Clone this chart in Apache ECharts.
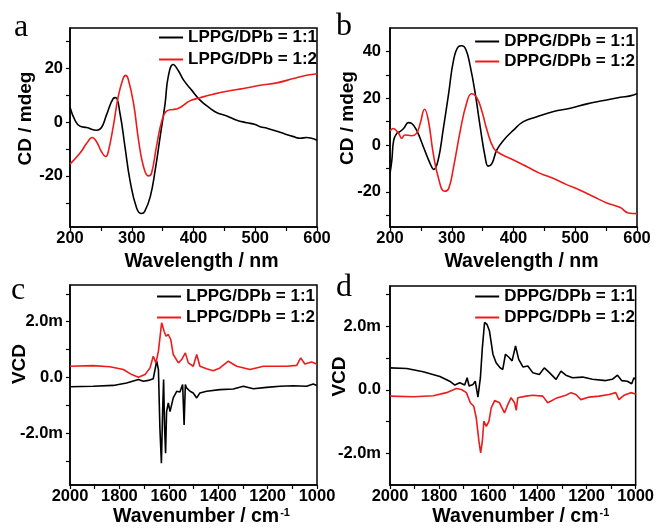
<!DOCTYPE html>
<html>
<head>
<meta charset="utf-8">
<script src="https://cdn.jsdelivr.net/npm/echarts@6/dist/echarts.min.js"></script>
<style>html,body{margin:0;padding:0;background:#fff}#c{width:657px;height:528px}</style>
</head>
<body>
<div id="c"></div>
<script>
// ---- Panel a: CD, LPPG/DPb ----
const aX1 = [200,208,216,227,243,251,259,270,274,281,289,297,308,316,321,330,338,346,354,359,367,375,384,397,411,427,438,454,470,486,500,508,519,540,562,573,583,591,600];
const aY1 = [5.5,0.7,-1.5,-2,-3,-2,2.6,8.8,9.1,3.2,-9.1,-21.5,-32,-34,-33.2,-27.7,-17.8,-5.4,6.9,16.8,21.4,19.3,15.6,11.9,8.1,5.1,3.5,2.3,0.7,-0.2,-0.9,-1.7,-2.3,-3.8,-5.4,-6,-5.7,-6,-6.7];
const aX2 = [200,216,227,236,243,251,258,262,270,278,286,290,294,303,311,319,327,332,340,349,357,367,375,384,394,411,432,454,481,508,535,562,583,600];
const aY2 = [-15.6,-11.6,-7.9,-5.7,-7.3,-11,-12.8,-11,-1.7,9.4,16.2,17.4,16.2,6.9,-6.7,-16.5,-20,-19,-9.1,0.7,4.2,4.7,5.1,6.3,7.9,9.1,10.4,11.5,12.5,13.7,14.6,16.2,17.4,18];
// ---- Panel b: CD, DPPG/DPb ----
const bX1 = [200,203,206,211,216,222,230,235,243,254,265,271,278,286,295,303,311,316,323,330,338,346,354,359,365,373,384,400,416,438,465,492,519,546,573,589,600];
const bY1 = [-12.1,-6.4,2.1,5,5.7,7.1,9.6,9.3,6.4,-0.7,-7.9,-10.4,-6.4,6.4,22.1,36.4,42.1,42.4,40.7,33.6,22.1,7.9,-5,-9,-7.9,-2.1,2.1,6.4,10,12.1,14.3,15.7,17.6,19,20.4,21,21.9];
const bX2 = [200,205,214,219,224,235,243,249,256,262,270,278,288,295,303,314,324,332,341,349,357,368,378,400,422,443,465,486,508,530,551,573,586,600];
const bY2 = [6,7.1,5,2.9,4.3,4,5,9.3,15.3,10.7,-3.6,-13.6,-19.7,-18.6,-9.3,6.4,17.9,21.9,20,14.3,6.4,-1.4,-3.6,-6.4,-9.3,-12.1,-14.3,-16.9,-19.3,-22.1,-24.7,-26.7,-29,-29.3];
// ---- Panel c: VCD (m), LPPG/DPb ----
const cX1 = [2000,1906,1825,1771,1723,1703,1683,1663,1649,1642,1636,1630,1625,1621,1617,1613,1609,1602,1595,1582,1568,1555,1544,1538,1533,1528,1514,1501,1487,1474,1447,1393,1339,1298,1258,1204,1150,1096,1042,1015,1001];
const cY1 = [-0.34,-0.32,-0.29,-0.2,-0.08,-0.14,-0.11,-0.05,0.58,0.28,-1.83,-3.09,-1.23,-0.08,-1.83,-2.73,-1.23,-0.92,-1.23,-0.74,-0.5,-0.53,-0.26,-1.71,-0.26,-0.38,-0.5,-0.56,-0.74,-0.56,-0.5,-0.44,-0.42,-0.32,-0.41,-0.36,-0.32,-0.3,-0.32,-0.24,-0.29];
const cX2 = [2000,1906,1838,1784,1750,1723,1696,1676,1663,1652,1642,1629,1619,1611,1602,1592,1582,1561,1548,1533,1521,1501,1487,1474,1447,1420,1393,1359,1325,1271,1217,1190,1123,1082,1066,1049,1022,1001];
const cY2 = [0.4,0.42,0.38,0.28,0.1,0,0.1,0.34,0.76,0.52,0.94,1.96,1.66,1.48,1.54,1.36,0.82,0.52,0.64,0.88,0.52,0.4,0.82,0.4,0.31,0.24,0.34,0.58,0.4,0.28,0.4,0.4,0.4,0.43,0.7,0.48,0.55,0.48];
// ---- Panel d: VCD (m), DPPG/DPb ----
const dX1 = [2000,1932,1865,1797,1757,1736,1716,1696,1686,1678,1662,1653,1642,1632,1624,1615,1605,1595,1581,1568,1551,1541,1530,1514,1503,1489,1476,1459,1439,1419,1392,1372,1351,1324,1304,1284,1257,1216,1176,1122,1095,1074,1057,1034,1016,1007,1000];
const dY1 = [0.69,0.67,0.57,0.42,0.27,0.15,0.22,0.15,0.38,0.12,0.17,0.27,-0.23,0.38,1.33,2.12,2.06,1.85,1.12,0.85,0.69,0.64,1.12,1.01,0.91,1.38,0.96,0.72,0.75,0.54,0.48,0.69,0.54,0.33,0.59,0.46,0.38,0.4,0.33,0.29,0.33,0.46,0.29,0.27,0.19,0.38,0.33];
const dX2 = [2000,1905,1824,1770,1730,1709,1689,1673,1659,1649,1638,1631,1624,1618,1608,1597,1588,1574,1554,1534,1520,1507,1493,1486,1480,1446,1419,1378,1358,1324,1284,1263,1243,1223,1189,1149,1108,1081,1068,1047,1020,1000];
const dY2 = [-0.2,-0.22,-0.19,-0.09,0.04,0.01,-0.09,-0.41,-0.52,-0.88,-1.62,-1.99,-1.62,-0.99,-1.15,-0.99,-0.57,-0.34,-0.41,-0.73,-0.46,-0.25,-0.41,-0.65,-0.25,-0.2,-0.17,-0.2,-0.41,-0.27,-0.17,-0.09,-0.15,-0.31,-0.23,-0.2,-0.15,-0.09,-0.31,-0.17,-0.09,-0.13];

// ---- names, ticks, labels ----
const namesL = ['LPPG/DPb = 1:1', 'LPPG/DPb = 1:2'];
const namesD = ['DPPG/DPb = 1:1', 'DPPG/DPb = 1:2'];
const cdXTicks = [200,250,300,350,400,450,500,550,600];
const cdXLabels = [200,300,400,500,600];
const wnTicks = [2000,1900,1800,1700,1600,1500,1400,1300,1200,1100,1000];
const wnLabels = [2000,1800,1600,1400,1200,1000];
const aYTicks = [-30,-20,-10,0,10,20,30];
const aYLabels = [-20,0,20];
const bYTicks = [-30,-20,-10,0,10,20,30,40];
const bYLabels = [-20,0,20,40];
const cYTicks = [-3,-2,-1,0,1,2,3];
const dYTicks = [-2,-1,0,1,2,3];
const vcdLabels = [-2,0,2];

const zip = (xs, ys) => xs.map((x, i) => [x, ys[i]]);
const FONT = 'Liberation Sans, Arial, sans-serif';
const BLACK = '#000000', RED = '#ec1c1c';

const grids = [
  {left: 70, top: 28, width: 247, height: 199},
  {left: 390, top: 28, width: 247, height: 199},
  {left: 70, top: 285, width: 247, height: 200},
  {left: 390, top: 286, width: 247, height: 199}
];

const intFmt = v => String(v);
const vcdFmt = v => (v === 0 ? '0.0' : v.toFixed(1) + 'm');

function xAxisCfg(idx, min, max, ticks, labels, inverse, nameRich, gap) {
  return {
    type: 'value', gridIndex: idx, min: min, max: max, inverse: inverse,
    axisLine: {show: true, onZero: false, lineStyle: {color: BLACK, width: 1.5}},
    axisTick: {show: true, inside: false, length: 4, customValues: ticks, lineStyle: {color: BLACK, width: 1.2}},
    axisLabel: {show: true, customValues: labels, formatter: intFmt, margin: 3, color: BLACK, fontSize: 16.5, fontWeight: 'bold', fontFamily: FONT, hideOverlap: false},
    splitLine: {show: false},
    name: nameRich.text, nameLocation: 'middle', nameGap: gap, nameMoveOverlap: false,
    nameTextStyle: {color: BLACK, fontSize: 19.5, fontWeight: 'bold', fontFamily: FONT, padding: [0,0,0,16], rich: nameRich.rich}
  };
}
function yAxisCfg(idx, min, max, ticks, labels, fmt, margin, name, gap, shiftUp) {
  return {
    type: 'value', gridIndex: idx, min: min, max: max,
    axisLine: {show: true, onZero: false, lineStyle: {color: BLACK, width: 1.5}},
    axisTick: {show: true, inside: false, length: 4, customValues: ticks, lineStyle: {color: BLACK, width: 1.2}},
    axisLabel: {show: true, customValues: labels, formatter: fmt, margin: margin, color: BLACK, fontSize: 16.5, fontWeight: 'bold', fontFamily: FONT},
    splitLine: {show: false},
    name: name, nameLocation: 'middle', nameGap: gap, nameMoveOverlap: false,
    nameTextStyle: {color: BLACK, fontSize: 19, fontWeight: 'bold', fontFamily: FONT, padding: [0,0,0,2 * shiftUp]}
  };
}
const wlName = {text: 'Wavelength / nm', rich: {}};
const wnName = {text: '{a|Wavenumber / cm}{s|-1}', rich: {
  a: {fontSize: 19.5, fontWeight: 'bold', fontFamily: FONT, color: BLACK},
  s: {fontSize: 11, fontWeight: 'bold', fontFamily: FONT, color: BLACK, verticalAlign: 'top', padding: [0,0,8,1]}
}};

function lineSeries(name, xi, xs, ys, color, smooth) {
  return {
    type: 'line', name: name, xAxisIndex: xi, yAxisIndex: xi,
    data: zip(xs, ys), showSymbol: false, symbol: 'none',
    smooth: smooth ? 0.45 : false,
    lineStyle: {color: color, width: 1.6}, itemStyle: {color: color},
    animation: false
  };
}
function legendCfg(names, right, top, gap) {
  return {
    data: names, orient: 'vertical', right: right, top: top, itemGap: gap, padding: 0,
    icon: 'rect', itemWidth: 24, itemHeight: 2, selectedMode: false,
    textStyle: {color: BLACK, fontSize: 17, fontWeight: 'bold', fontFamily: FONT}
  };
}
function letter(t, x, y) {
  return {type: 'text', left: x, top: y, style: {text: t, fill: BLACK, font: '32px "Liberation Serif", "Times New Roman", serif'}};
}

const option = {
  backgroundColor: '#ffffff',
  animation: false,
  grid: grids.map(g => Object.assign({show: true, borderColor: BLACK, borderWidth: 1.5, backgroundColor: 'transparent'}, g)),
  xAxis: [
    xAxisCfg(0, 200, 600, cdXTicks, cdXLabels, false, wlName, 25),
    xAxisCfg(1, 200, 600, cdXTicks, cdXLabels, false, wlName, 25),
    xAxisCfg(2, 1000, 2000, wnTicks, wnLabels, true, wnName, 22),
    xAxisCfg(3, 1000, 2000, wnTicks, wnLabels, true, wnName, 22)
  ],
  yAxis: [
    yAxisCfg(0, -39, 35, aYTicks, aYLabels, intFmt, 7, 'CD / mdeg', 35, 9),
    yAxisCfg(1, -35, 50, bYTicks, bYLabels, intFmt, 9, 'CD / mdeg', 33, 9.5),
    yAxisCfg(2, -3.87, 3.32, cYTicks, vcdLabels, vcdFmt, 7, 'VCD', 41, 21),
    yAxisCfg(3, -3, 3.27, dYTicks, vcdLabels, vcdFmt, 9, 'VCD', 41, 9)
  ],
  legend: [
    legendCfg(namesL, 340, 29, 5),
    legendCfg(namesD, 22, 33, 3),
    legendCfg(namesL, 342, 288, 4),
    legendCfg(namesD, 22, 288, 4)
  ],
  series: [
    lineSeries(namesL[0], 0, aX1, aY1, BLACK, true),
    lineSeries(namesL[1], 0, aX2, aY2, RED, true),
    lineSeries(namesD[0], 1, bX1, bY1, BLACK, true),
    lineSeries(namesD[1], 1, bX2, bY2, RED, true),
    lineSeries(namesL[0], 2, cX1, cY1, BLACK, false),
    lineSeries(namesL[1], 2, cX2, cY2, RED, false),
    lineSeries(namesD[0], 3, dX1, dY1, BLACK, false),
    lineSeries(namesD[1], 3, dX2, dY2, RED, false)
  ],
  graphic: [
    letter('a', 14, 12),
    letter('b', 336, 11),
    letter('c', 11, 275),
    letter('d', 336, 272)
  ]
};
const chart = echarts.init(document.getElementById('c'), null, {renderer: 'canvas'});
chart.setOption(option);
</script>
</body>
</html>
